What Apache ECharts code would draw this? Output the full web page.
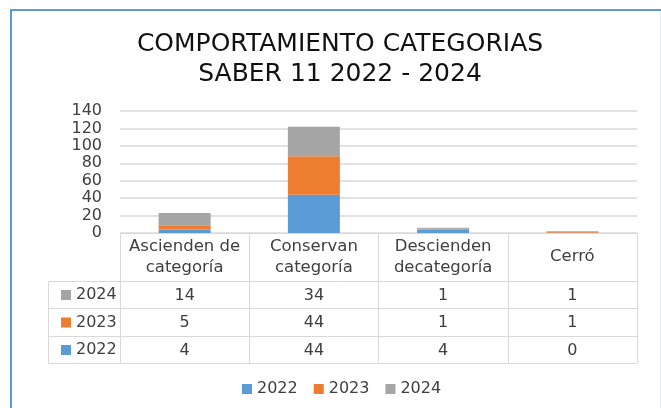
<!DOCTYPE html>
<html>
<head>
<meta charset="utf-8">
<script src="https://cdn.jsdelivr.net/npm/echarts@6/dist/echarts.min.js"></script>
<style>
  html, body { margin: 0; padding: 0; background: #fff; }
  #chart { width: 661px; height: 408px; }
</style>
</head>
<body>
<div id="chart"></div>
<script>
const categories = ['Ascienden de\ncategoría', 'Conservan\ncategoría', 'Descienden\ndecategoría', 'Cerró'];
const years = ['2022', '2023', '2024'];
const values2022 = [4, 44, 4, 0];
const values2023 = [5, 44, 1, 1];
const values2024 = [14, 34, 1, 1];
const yTicks = [0, 20, 40, 60, 80, 100, 120, 140];

const colors = { '2022': '#5B9BD5', '2023': '#ED7D31', '2024': '#A5A5A5' };
const seriesValues = { '2022': values2022, '2023': values2023, '2024': values2024 };

const FONT = '"DejaVu Sans"';
const TXT = '#404040';
const LINE = '#d9d9d9';

// plot area / data table geometry
const gridLeft = 120, gridRight = 637, axisY = 233;
const rowTops = [281, 308, 336];   // rows 2024, 2023, 2022
const tableBottom = 363;
const keyLeft = 48;

const chart = echarts.init(document.getElementById('chart'));

// one extra category axis per table row, labels read from the series arrays
const tableRows = ['2024', '2023', '2022'];
const rowAxes = tableRows.map((y, i) => ({
  type: 'category',
  gridIndex: 0,
  position: 'bottom',
  offset: 0,
  data: categories,
  axisLine: { show: false },
  axisTick: { show: false },
  axisLabel: {
    interval: 0,
    margin: rowTops[i] + ((i < 2 ? rowTops[i + 1] : tableBottom) - rowTops[i]) / 2 - axisY + 1,
    verticalAlign: 'middle',
    fontFamily: FONT,
    fontSize: 16,
    color: TXT,
    formatter: (v, idx) => String(seriesValues[y][idx])
  }
}));

const tableLines = [rowTops[0], rowTops[1], rowTops[2], tableBottom].map(y => ({
  type: 'line',
  shape: { x1: keyLeft, y1: y + 0.5, x2: gridRight, y2: y + 0.5 },
  style: { stroke: LINE, lineWidth: 1 },
  silent: true
}));

const option = {
  animation: false,
  title: {
    text: 'COMPORTAMIENTO CATEGORIAS\nSABER 11 2022 - 2024',
    left: 335,
    textAlign: 'center',
    top: 24,
    textStyle: { fontFamily: FONT, fontSize: 25, fontWeight: 'normal', color: '#111', lineHeight: 30 }
  },
  grid: { left: gridLeft, right: 661 - gridRight, top: 111, bottom: 408 - axisY, containLabel: false },
  legend: [
    {
      data: years,
      left: 237,
      top: 374,
      icon: 'rect',
      itemWidth: 10,
      itemHeight: 10,
      itemGap: 16,
      textStyle: { fontFamily: FONT, fontSize: 16, color: TXT, lineHeight: 20 }
    },
    {
      data: ['2024', '2023', '2022'],
      orient: 'vertical',
      left: 56,
      top: 280,
      icon: 'rect',
      itemWidth: 10,
      itemHeight: 10,
      itemGap: 7.5,
      textStyle: { fontFamily: FONT, fontSize: 16, color: TXT, lineHeight: 20 }
    }
  ],
  xAxis: [
    {
      type: 'category',
      position: 'bottom',
      data: categories,
      axisLine: { show: true, lineStyle: { color: LINE, width: 1 } },
      axisTick: { show: true, interval: 0, length: tableBottom - axisY, lineStyle: { color: LINE } },
      axisLabel: {
        interval: 0,
        margin: 24,
        verticalAlign: 'middle',
        fontFamily: FONT,
        fontSize: 16.5,
        lineHeight: 21,
        color: TXT
      }
    }
  ].concat(rowAxes),
  yAxis: {
    type: 'value',
    min: yTicks[0],
    max: yTicks[yTicks.length - 1],
    interval: yTicks[1] - yTicks[0],
    axisLine: { show: false },
    axisTick: { show: false },
    splitLine: { lineStyle: { color: LINE, width: 1.5 } },
    axisLabel: { margin: 18, fontFamily: FONT, fontSize: 16, color: TXT, verticalAlign: 'middle', padding: [2, 0, 0, 0] }
  },
  series: years.map(y => ({
    name: y,
    type: 'bar',
    stack: 'total',
    xAxisIndex: 0,
    barWidth: 52,
    data: seriesValues[y],
    itemStyle: { color: colors[y] }
  })),
  graphic: tableLines.concat([
    {
      type: 'line',
      shape: { x1: keyLeft + 0.5, y1: rowTops[0], x2: keyLeft + 0.5, y2: tableBottom },
      style: { stroke: LINE, lineWidth: 1 },
      silent: true
    },
    // outer frame
    { type: 'line', shape: { x1: 10, y1: 10, x2: 661, y2: 10 }, style: { stroke: '#5B9BD5', lineWidth: 2 }, silent: true },
    { type: 'line', shape: { x1: 11, y1: 9, x2: 11, y2: 408 }, style: { stroke: '#5B9BD5', lineWidth: 2 }, silent: true },
    { type: 'line', shape: { x1: 660.5, y1: 11, x2: 660.5, y2: 408 }, style: { stroke: '#DDEBF7', lineWidth: 1 }, silent: true }
  ])
};

chart.setOption(option);
</script>
</body>
</html>
